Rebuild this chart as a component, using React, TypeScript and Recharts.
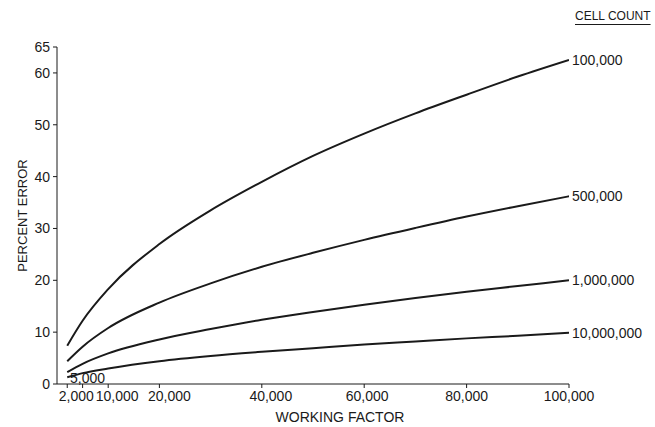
import React from 'react'
import { LineChart, Line, XAxis, YAxis, Label } from 'recharts'

// Working factor (x) sample points
const workingFactor = [2000, 5000, 10000, 20000, 30000, 40000, 50000, 60000, 70000, 80000, 90000, 100000]

// Percent error per cell count
const cells100k = [7.4, 12.2, 18.3, 27.0, 33.5, 39.0, 44.0, 48.3, 52.2, 55.8, 59.3, 62.5]
const cells500k = [4.4, 7.2, 10.8, 15.7, 19.4, 22.6, 25.3, 27.8, 30.1, 32.3, 34.3, 36.2]
const cells1m = [2.3, 3.9, 5.9, 8.6, 10.6, 12.4, 13.9, 15.3, 16.6, 17.8, 18.9, 20.0]
const cells10m = [1.3, 2.1, 3.0, 4.4, 5.4, 6.2, 6.9, 7.6, 8.2, 8.8, 9.3, 9.9]

const seriesKeys = ['c100k', 'c500k', 'c1m', 'c10m']
const seriesLabels = ['100,000', '500,000', '1,000,000', '10,000,000']
const seriesValues = [cells100k, cells500k, cells1m, cells10m]

const xTicks = [2000, 5000, 10000, 20000, 40000, 60000, 80000, 100000]
const yTicks = [0, 10, 20, 30, 40, 50, 60, 65]

const FONT = '"Liberation Sans", Arial, sans-serif'
const INK = '#1a1a1a'

// hand-lettered originals sit a bit right of their tick marks
const TICK_NUDGE: Record<number, number> = { 2000: 9, 10000: 9, 20000: 10, 40000: 9, 60000: 3 }

const data = workingFactor.map((wf, i) => {
  const row: Record<string, number> = { wf }
  seriesKeys.forEach((k, s) => { row[k] = seriesValues[s][i] })
  return row
})

const fmt = (v: number) => v.toLocaleString('en-US')

// 5,000 is labelled inside the plot, just above the axis
function XTick(props: any) {
  const { x, y, payload } = props
  if (payload.value === 5000) {
    return (
      <text x={x + 5} y={y - 8} textAnchor="middle" fontSize={14} fill={INK} fontFamily={FONT}>
        {fmt(payload.value)}
      </text>
    )
  }
  return (
    <text x={x + (TICK_NUDGE[payload.value] || 0)} y={y} dy="0.71em" textAnchor="middle" fontSize={14} fill={INK} fontFamily={FONT}>
      {fmt(payload.value)}
    </text>
  )
}

const endLabel = (text: string) => (props: any) => {
  const { x, y, index } = props
  if (index !== workingFactor.length - 1) return <g />
  return (
    <text x={x + 3} y={y} dy="0.35em" fontSize={14} fill={INK} fontFamily={FONT}>
      {text}
    </text>
  )
}

export default function App() {
  return (
    <div style={{ position: 'absolute', left: 0, top: 0, width: 655, height: 427, background: '#fff', fontFamily: FONT }}>
      <LineChart width={655} height={427} data={data} margin={{ top: 47, right: 86, bottom: 3, left: 0 }}>
        <XAxis
          type="number"
          dataKey="wf"
          domain={[0, 100000]}
          ticks={xTicks}
          interval={0}
          tick={<XTick />}
          tickSize={4}
          tickMargin={3}
          height={40}
          stroke={INK}
          allowDataOverflow
        >
          <Label value="WORKING FACTOR" position="insideBottom" offset={2} dx={27} fontSize={14} fill={INK} fontFamily={FONT} />
        </XAxis>
        <YAxis
          type="number"
          domain={[0, 65]}
          ticks={yTicks}
          interval={0}
          width={57}
          tickSize={4}
          tickMargin={3}
          stroke={INK}
          tick={{ fontSize: 14, fill: INK, fontFamily: FONT }}
        >
          <Label value="PERCENT ERROR" angle={-90} position="center" dx={-6} fontSize={13} fill={INK} fontFamily={FONT} />
        </YAxis>
        {seriesKeys.map((k, s) => (
          <Line
            key={k}
            type="monotone"
            dataKey={k}
            stroke={INK}
            strokeWidth={2}
            dot={false}
            label={endLabel(seriesLabels[s])}
            isAnimationActive={false}
          />
        ))}
      </LineChart>
      <div
        style={{
          position: 'absolute',
          left: 575,
          top: 9,
          fontSize: 12,
          color: INK,
          textDecoration: 'underline',
          textUnderlineOffset: 4,
        }}
      >
        CELL COUNT
      </div>
    </div>
  )
}
